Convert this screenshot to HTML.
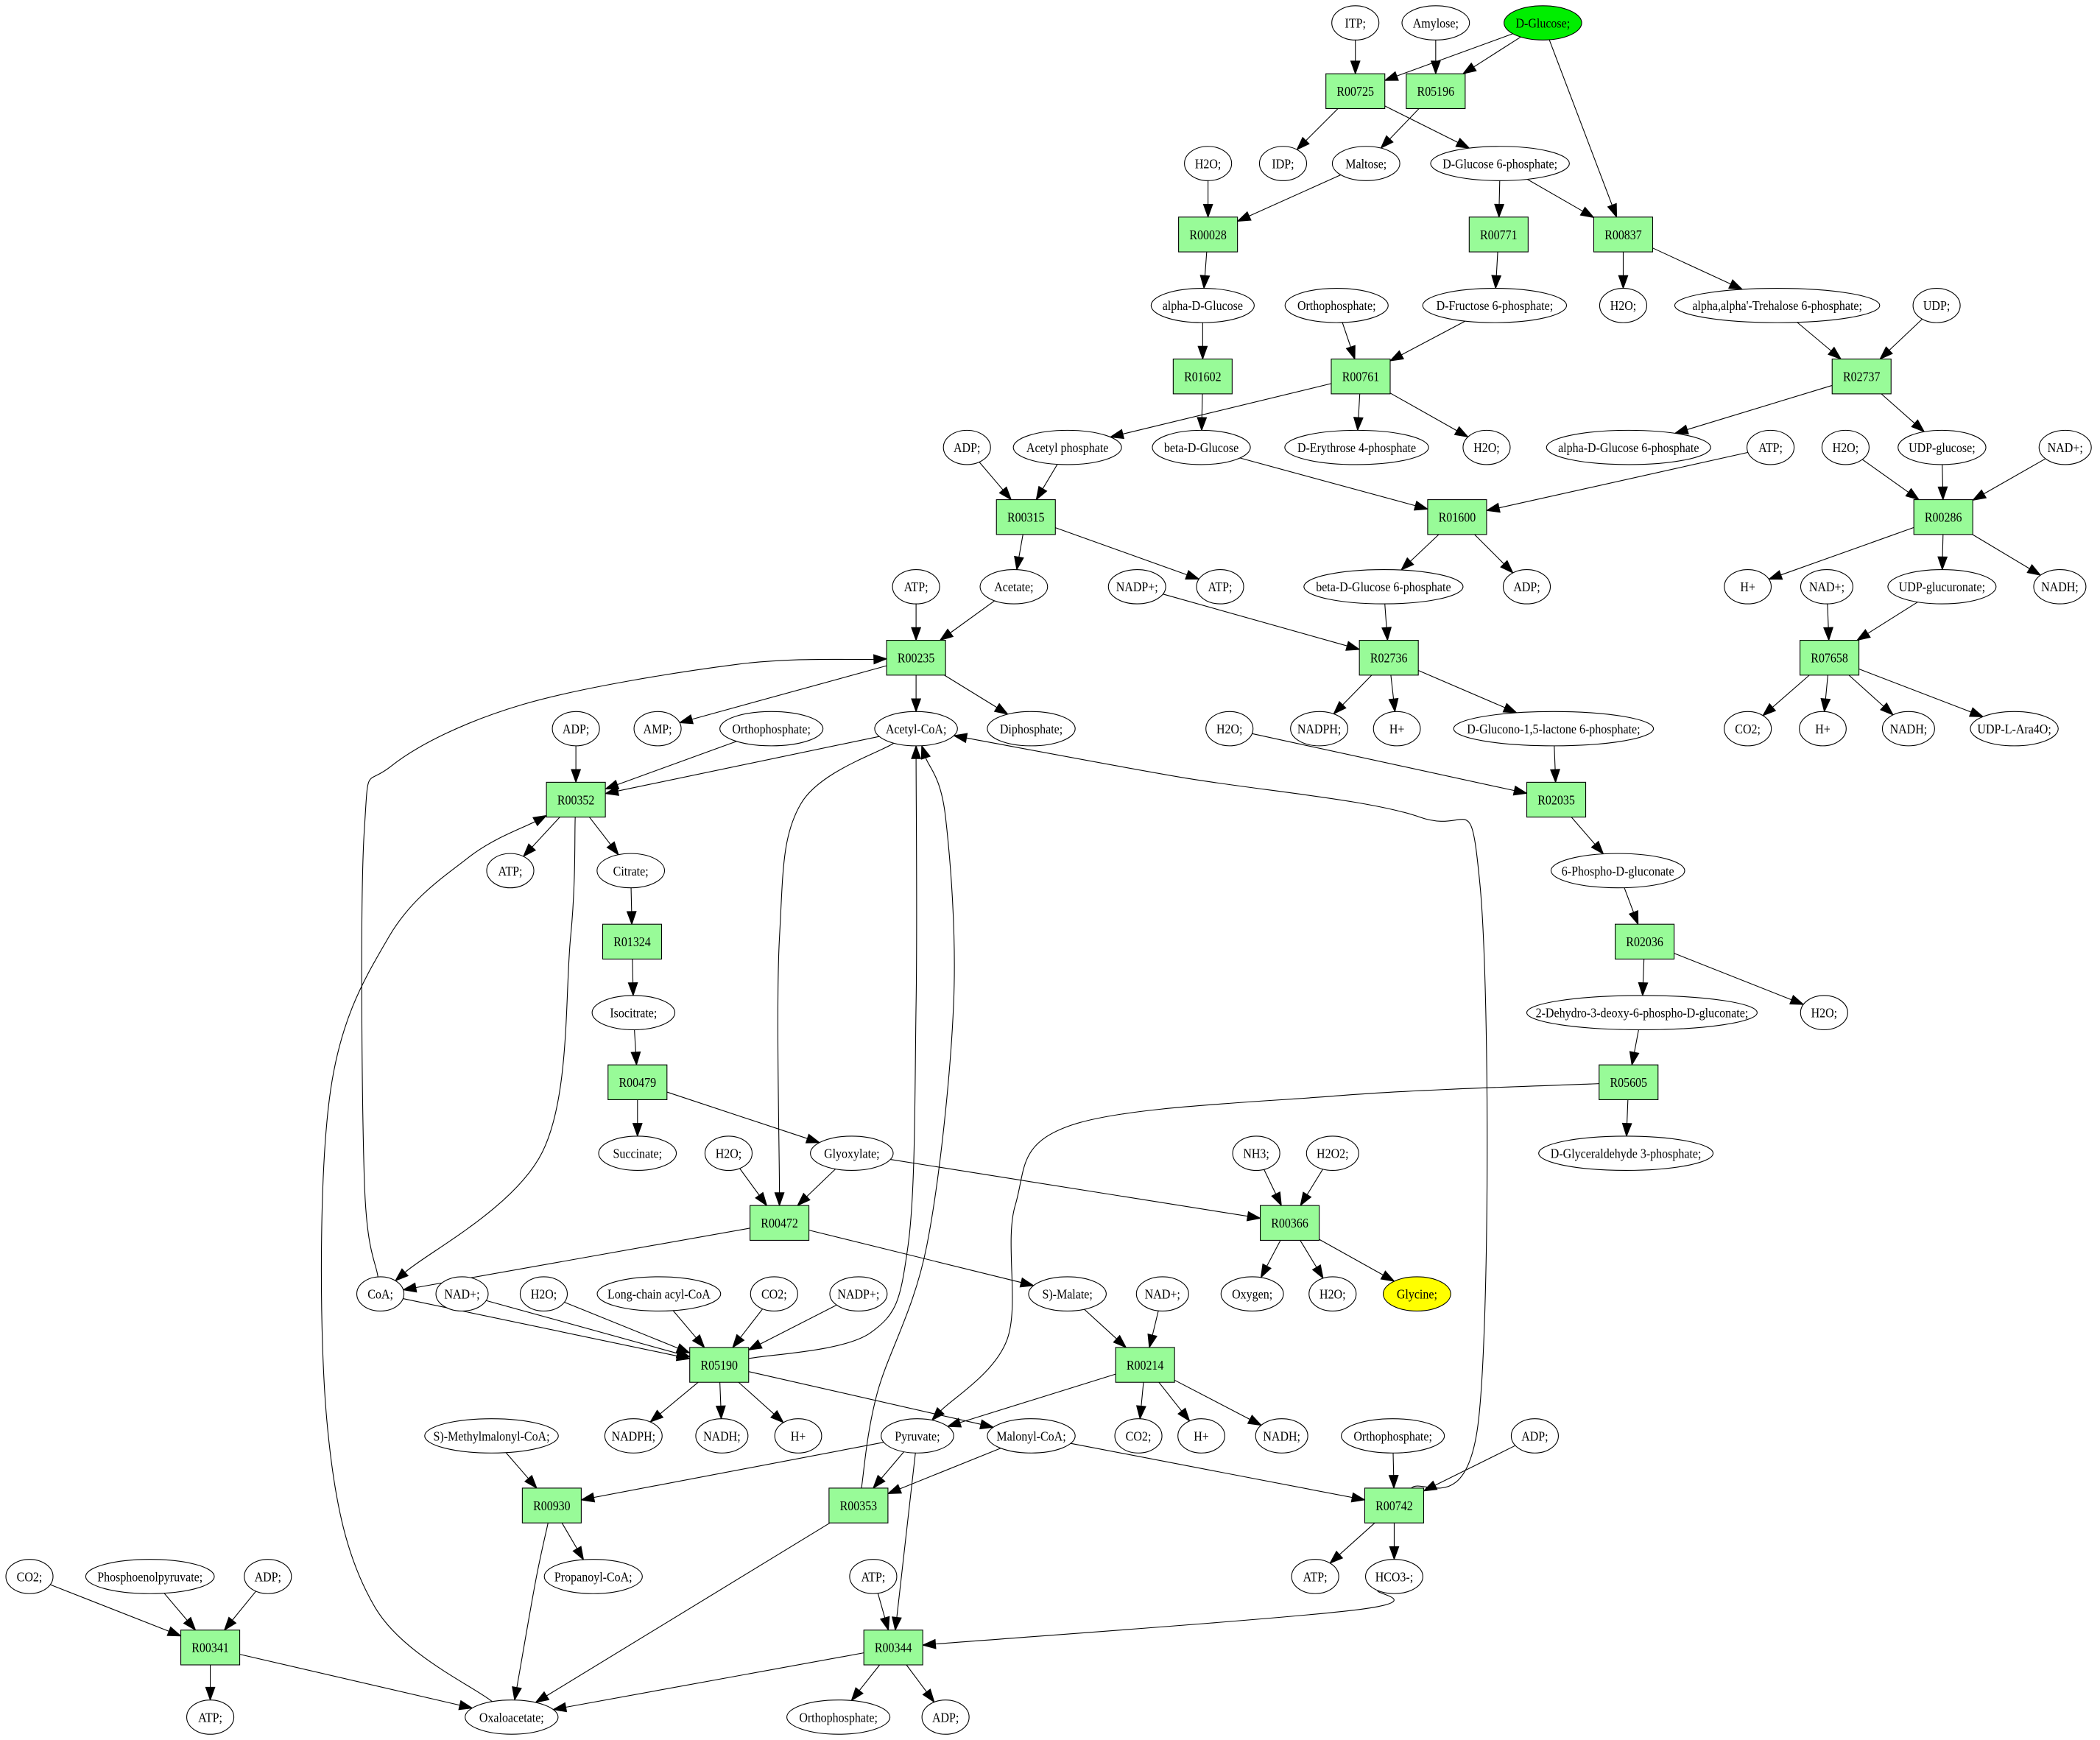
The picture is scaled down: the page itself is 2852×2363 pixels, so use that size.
<!DOCTYPE html>
<html><head><meta charset="utf-8">
<style>
html,body{margin:0;padding:0;background:#fff;}
svg{display:block;}
text{font-family:"Liberation Serif",serif;font-size:10px;}
</style></head>
<body>
<svg id="g" width="2852" height="2363" viewBox="0 0 1568 1299" xmlns="http://www.w3.org/2000/svg">
<rect width="1568" height="1299" fill="#fff"/>
</svg>
<script>
var N={};
function E(id,x,y,t,fill){var n=t.length;N[id]={t:'e',x:x,y:y,rx:Math.max(17.5,1.9*n+10),ry:12.8,label:t,fill:fill||'#fff'};}
function R(id,x,y){N[id]={t:'r',x:x,y:y,hw:22,hh:13,label:id,fill:'#98fb98'};}
E('ITP',1012,17,'ITP;');E('Amy',1072,17,'Amylose;');E('DGlc',1152,17,'D-Glucose;','#00ee00');
R('R00725',1012,68);R('R05196',1072,68);
E('IDP',958,122,'IDP;');E('Malt',1020,122,'Maltose;');E('G6P',1120,122,'D-Glucose 6-phosphate;');E('H2Oa',902,122,'H2O;');
R('R00028',902,175);R('R00771',1119,175);R('R00837',1212,175);
E('aDG',898,228,'alpha-D-Glucose');E('Orth1',998,228,'Orthophosphate;');E('F6P',1116,228,'D-Fructose 6-phosphate;');E('H2Ob',1212,228,'H2O;');E('Tre',1327,228,"alpha,alpha'-Trehalose 6-phosphate;");E('UDP',1446,228,'UDP;');
R('R01602',898,281);R('R00761',1016,281);R('R02737',1390,281);
E('ADP1',722,334,'ADP;');E('AcP',797,334,'Acetyl phosphate');E('bDG',897,334,'beta-D-Glucose');E('E4P',1013,334,'D-Erythrose 4-phosphate');E('H2Oc',1110,334,'H2O;');E('aDG6P',1216,334,'alpha-D-Glucose 6-phosphate');E('ATP1',1322,334,'ATP;');E('H2Od',1378,334,'H2O;');E('UDPG',1450,334,'UDP-glucose;');E('NAD1',1542,334,'NAD+;');
R('R00315',766,386);R('R01600',1088,386);R('R00286',1451,386);
E('ATP2',684,438,'ATP;');E('Acet',757,438,'Acetate;');E('NADP1',849,438,'NADP+;');E('ATP3',911,438,'ATP;');E('bDG6P',1033,438,'beta-D-Glucose 6-phosphate');E('ADP2',1140,438,'ADP;');E('H1',1305,438,'H+');E('NAD2',1364,438,'NAD+;');E('UDPGA',1450,438,'UDP-glucuronate;');E('NADH1',1538,438,'NADH;');
R('R00235',684,491);R('R02736',1037,491);R('R07658',1366,491);
E('ADP3',430,544,'ADP;');E('AMP',491,544,'AMP;');E('Orth2',576,544,'Orthophosphate;');E('AcCoA',684,544,'Acetyl-CoA;');E('PPi',770,544,'Diphosphate;');E('H2Oe',918,544,'H2O;');E('NADPH1',985,544,'NADPH;');E('H2',1043,544,'H+');E('Glc',1160,544,'D-Glucono-1,5-lactone 6-phosphate;');E('CO2a',1305,544,'CO2;');E('H3',1361,544,'H+');E('NADH2',1425,544,'NADH;');E('Ara',1504,544,'UDP-L-Ara4O;');
R('R00352',430,597);R('R02035',1162,597);
E('ATP4',381,650,'ATP;');E('Cit',471,650,'Citrate;');E('PG6',1208,650,'6-Phospho-D-gluconate');
R('R01324',472,703);R('R02036',1228,703);
E('Iso',473,756,'Isocitrate;');E('KDPG',1226,756,'2-Dehydro-3-deoxy-6-phospho-D-gluconate;');E('H2Of',1362,756,'H2O;');
R('R00479',476,808);R('R05605',1216,808);
E('Succ',476,861,'Succinate;');E('H2Og',544,861,'H2O;');E('Glyox',636,861,'Glyoxylate;');E('NH3',938,861,'NH3;');E('H2O2',995,861,'H2O2;');E('GAP',1214,861,'D-Glyceraldehyde 3-phosphate;');
R('R00472',582,913);R('R00366',963,913);
E('CoA',284,966,'CoA;');E('NAD3',345,966,'NAD+;');E('H2Oh',406,966,'H2O;');E('LCA',492,966,'Long-chain acyl-CoA');E('CO2b',578,966,'CO2;');E('NADP2',641,966,'NADP+;');E('Mal',797,966,'S)-Malate;');E('NAD4',868,966,'NAD+;');E('Oxy',935,966,'Oxygen;');E('H2Oi',995,966,'H2O;');E('Gly',1058,966,'Glycine;','#ffff00');
R('R05190',537,1019);R('R00214',855,1019);
E('MMC',367,1072,'S)-Methylmalonyl-CoA;');E('NADPH2',473,1072,'NADPH;');E('NADH3',539,1072,'NADH;');E('H4',596,1072,'H+');E('Pyr',685,1072,'Pyruvate;');E('MalCoA',770,1072,'Malonyl-CoA;');E('CO2c',850,1072,'CO2;');E('H5',897,1072,'H+');E('NADH4',957,1072,'NADH;');E('Orth3',1040,1072,'Orthophosphate;');E('ADP4',1146,1072,'ADP;');
R('R00930',412,1124);R('R00353',641,1124);R('R00742',1041,1124);
E('CO2d',22,1177,'CO2;');E('PEP',112,1177,'Phosphoenolpyruvate;');E('ADP5',200,1177,'ADP;');E('Prop',443,1177,'Propanoyl-CoA;');E('ATP5',652,1177,'ATP;');E('ATP6',982,1177,'ATP;');E('HCO3',1041,1177,'HCO3-;');
R('R00341',157,1230);R('R00344',667,1230);
E('ATP7',157,1282,'ATP;');E('OAA',382,1282,'Oxaloacetate;');E('Orth4',626,1282,'Orthophosphate;');E('ADP6',706,1282,'ADP;');

var ED=[
['ITP','R00725'],['Amy','R05196'],['DGlc','R00725'],['DGlc','R05196'],['DGlc','R00837'],
['R00725','IDP'],['R00725','G6P'],['R05196','Malt'],
['H2Oa','R00028'],['Malt','R00028'],['G6P','R00771'],['G6P','R00837'],
['R00028','aDG'],['R00771','F6P'],['R00837','H2Ob'],['R00837','Tre'],
['aDG','R01602'],['Orth1','R00761'],['F6P','R00761'],['Tre','R02737'],['UDP','R02737'],
['R01602','bDG'],['R00761','AcP'],['R00761','E4P'],['R00761','H2Oc'],['R02737','aDG6P'],['R02737','UDPG'],
['ADP1','R00315'],['AcP','R00315'],['bDG','R01600'],['ATP1','R01600'],['H2Od','R00286'],['UDPG','R00286'],['NAD1','R00286'],
['R00315','Acet'],['R00315','ATP3'],['R01600','bDG6P'],['R01600','ADP2'],['R00286','H1'],['R00286','UDPGA'],['R00286','NADH1'],
['ATP2','R00235'],['Acet','R00235'],['NADP1','R02736'],['bDG6P','R02736'],['NAD2','R07658'],['UDPGA','R07658'],
['R00235','AMP'],['R00235','AcCoA'],['R00235','PPi'],['R02736','NADPH1'],['R02736','H2'],['R02736','Glc'],
['R07658','CO2a'],['R07658','H3'],['R07658','NADH2'],['R07658','Ara'],
['ADP3','R00352'],['Orth2','R00352'],['AcCoA','R00352'],['H2Oe','R02035'],['Glc','R02035'],
['R00352','ATP4'],['R00352','Cit'],['R00352','CoA',[[426,700],[405,860]]],['R02035','PG6'],
['Cit','R01324'],['PG6','R02036'],['R01324','Iso'],['R02036','KDPG'],['R02036','H2Of'],
['Iso','R00479'],['KDPG','R05605'],['R00479','Succ'],['R00479','Glyox'],['R05605','GAP'],
['R05605','Pyr',[[1000,818],[800,840],[758,900],[752,1000]]],
['H2Og','R00472'],['Glyox','R00472'],['AcCoA','R00472',[[598,600],[582,700]]],['Glyox','R00366'],['NH3','R00366'],['H2O2','R00366'],
['R00472','CoA'],['R00472','Mal'],['R00366','Oxy'],['R00366','H2Oi'],['R00366','Gly'],
['CoA','R00235',[[272,880],[272,620],[292,572],[390,526],[550,496]]],
['CoA','R05190'],['NAD3','R05190'],['H2Oh','R05190'],['LCA','R05190'],['CO2b','R05190'],['NADP2','R05190'],['Mal','R00214'],['NAD4','R00214'],
['R05190','AcCoA',[[650,995],[678,930],[684,750]]],
['R05190','NADPH2'],['R05190','NADH3'],['R05190','H4'],['R05190','MalCoA'],
['R00214','Pyr'],['R00214','CO2c'],['R00214','H5'],['R00214','NADH4'],
['MMC','R00930'],['Pyr','R00930'],['Pyr','R00353'],['MalCoA','R00353'],['MalCoA','R00742'],['Orth3','R00742'],['ADP4','R00742'],
['R00353','AcCoA',[[655,1040],[692,930],[712,750],[706,610]]],
['R00353','OAA'],['Pyr','R00344'],['R00930','Prop'],['R00930','OAA',[[400,1180]]],
['R00742','AcCoA',[[1104,1060],[1105,660],[1060,610],[880,580]]],
['R00742','ATP6'],['R00742','HCO3'],
['CO2d','R00341'],['PEP','R00341'],['ADP5','R00341'],['ATP5','R00344'],['HCO3','R00344',[[1012,1202]]],
['R00341','ATP7'],['R00341','OAA'],['R00344','OAA'],['R00344','Orth4'],['R00344','ADP6'],
['OAA','R00352',[[280,1200],[244,1060],[246,820],[290,700],[350,640]]]
];
function clip(n,dx,dy){var t;
 if(n.t=='e'){t=1/Math.sqrt((dx/n.rx)*(dx/n.rx)+(dy/n.ry)*(dy/n.ry));}
 else{t=Math.min(dx?n.hw/Math.abs(dx):1e9,dy?n.hh/Math.abs(dy):1e9);}
 return [n.x+dx*t,n.y+dy*t];}
var s='';
ED.forEach(function(e){var a=N[e[0]],b=N[e[1]],w=e[2]||[];
 var f=w.length?w[0]:[b.x,b.y],l=w.length?w[w.length-1]:[a.x,a.y];
 var p0=clip(a,f[0]-a.x,f[1]-a.y),p1=clip(b,l[0]-b.x,l[1]-b.y);
 var ux=p1[0]-l[0],uy=p1[1]-l[1],L=Math.hypot(ux,uy);ux/=L;uy/=L;
 var al=9.5,aw=3.4;var bx=p1[0]-ux*al,by=p1[1]-uy*al;
 var pts=[p0].concat(w).concat([[bx,by]]);
 var d='M'+pts[0][0].toFixed(1)+','+pts[0][1].toFixed(1);
 if(pts.length==2){d+='L'+bx.toFixed(1)+','+by.toFixed(1);}
 else{for(var i=0;i<pts.length-1;i++){var P0=pts[Math.max(i-1,0)],P1=pts[i],P2=pts[i+1],P3=pts[Math.min(i+2,pts.length-1)];
  var c1=[P1[0]+(P2[0]-P0[0])/6,P1[1]+(P2[1]-P0[1])/6],c2=[P2[0]-(P3[0]-P1[0])/6,P2[1]-(P3[1]-P1[1])/6];
  d+='C'+c1[0].toFixed(1)+','+c1[1].toFixed(1)+' '+c2[0].toFixed(1)+','+c2[1].toFixed(1)+' '+P2[0].toFixed(1)+','+P2[1].toFixed(1);}}
 s+='<path d="'+d+'" fill="none" stroke="#000" stroke-width="0.6"/>';
 s+='<polygon points="'+p1[0]+','+p1[1]+' '+(bx-uy*aw)+','+(by+ux*aw)+' '+(bx+uy*aw)+','+(by-ux*aw)+'" fill="#000" stroke="#000" stroke-width="0.6"/>';
});
for(var k in N){var n=N[k];
 if(n.t=='e')s+='<ellipse cx="'+n.x+'" cy="'+n.y+'" rx="'+n.rx+'" ry="'+n.ry+'" fill="'+n.fill+'" stroke="#000" stroke-width="0.6"/>';
 else s+='<rect x="'+(n.x-n.hw)+'" y="'+(n.y-n.hh)+'" width="'+(2*n.hw)+'" height="'+(2*n.hh)+'" fill="'+n.fill+'" stroke="#000" stroke-width="0.6"/>';
 s+='<text class="lb" x="'+n.x+'" y="'+(n.y+3.5)+'" text-anchor="middle">'+n.label.replace(/&/g,'&amp;')+'</text>';
}
document.getElementById('g').insertAdjacentHTML('beforeend',s);
var ts=document.querySelectorAll('text.lb');
for(var i=0;i<ts.length;i++){var L=ts[i].getComputedTextLength();if(L>0){ts[i].setAttribute('textLength',(L*0.88).toFixed(1));ts[i].setAttribute('lengthAdjust','spacingAndGlyphs');}}
</script>
</body></html>
